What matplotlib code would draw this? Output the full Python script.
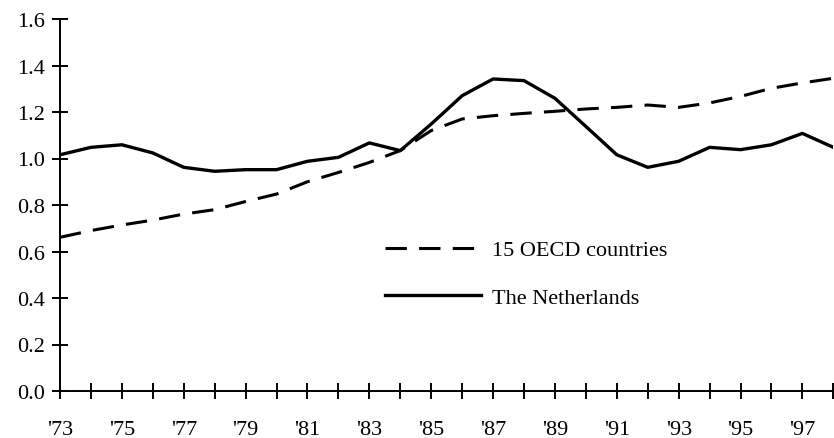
import numpy as np
import matplotlib.pyplot as plt

plt.rcParams['font.family'] = ['Liberation Serif', 'DejaVu Serif']

years = list(range(1973, 1999))
netherlands = [1.016, 1.048, 1.059, 1.024, 0.962, 0.945, 0.952, 0.952, 0.988, 1.005,
               1.067, 1.034, 1.148, 1.270, 1.342, 1.335, 1.259, 1.138, 1.016, 0.962,
               0.988, 1.048, 1.038, 1.059, 1.108, 1.048]
oecd = [0.661, 0.690, 0.714, 0.735, 0.761, 0.780, 0.815, 0.847, 0.900, 0.940,
        0.983, 1.034, 1.120, 1.170, 1.184, 1.194, 1.203, 1.213, 1.220, 1.230,
        1.220, 1.239, 1.267, 1.302, 1.325, 1.345]
x_labels = ["'%02d" % (y % 100) if y % 2 == 1 else '' for y in years]
y_ticks = [0.0, 0.2, 0.4, 0.6, 0.8, 1.0, 1.2, 1.4, 1.6]

fig = plt.figure(figsize=(8.34, 4.39), dpi=100)
ax = fig.add_axes([60 / 834, 47 / 439, 773.3 / 834, 372 / 439])

ax.plot(years, oecd, color='black', lw=2.2, dashes=(7, 4), label='15 OECD countries')
ax.plot(years, netherlands, color='black', lw=2.4, label='The Netherlands')

ax.set_xlim(1973, 1998)
ax.set_ylim(0, 1.6)
ax.set_xticks(years)
ax.set_xticklabels(x_labels)
ax.set_yticks(y_ticks)
ax.set_yticklabels(['%.1f' % v for v in y_ticks])

for s in ['top', 'right']:
    ax.spines[s].set_visible(False)
for s in ['left', 'bottom']:
    ax.spines[s].set_linewidth(1.4)

ax.tick_params(axis='both', direction='inout', length=11.5, width=1.4, labelsize=16)
ax.tick_params(axis='x', pad=15)
ax.tick_params(axis='y', pad=5)
for lab in ax.get_xticklabels() + ax.get_yticklabels():
    lab.set_clip_on(False)

ax.legend(loc='upper left', bbox_to_anchor=(0.395, 0.46), frameon=False, fontsize=16,
          handlelength=4.3, handletextpad=0.5, labelspacing=1.2)

fig.savefig('out.png', dpi=100)
